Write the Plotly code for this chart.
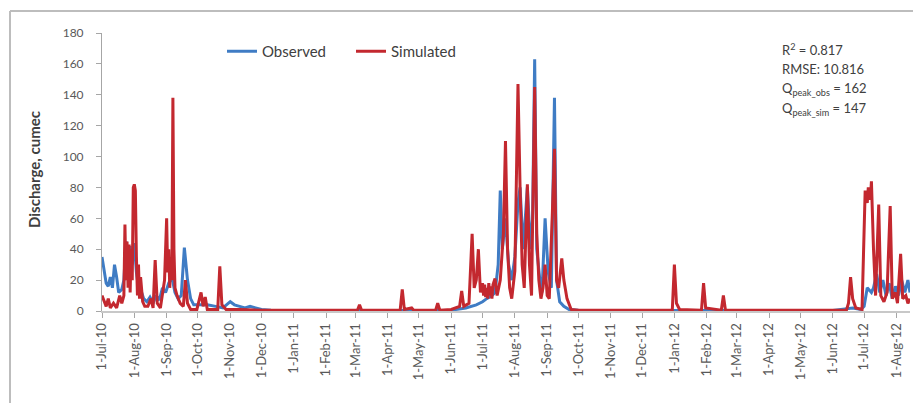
import plotly.graph_objects as go

# ---------------- data ----------------
obs_dates = [
    "2010-07-01", "2010-07-03", "2010-07-05", "2010-07-07", "2010-07-09", "2010-07-11",
    "2010-07-13", "2010-07-15", "2010-07-17", "2010-07-20", "2010-07-22", "2010-07-24",
    "2010-07-26", "2010-07-28", "2010-07-30", "2010-08-01", "2010-08-03", "2010-08-05",
    "2010-08-08", "2010-08-10", "2010-08-13", "2010-08-16", "2010-08-19", "2010-08-22",
    "2010-08-25", "2010-08-28", "2010-08-31", "2010-09-03", "2010-09-06", "2010-09-09",
    "2010-09-12", "2010-09-15", "2010-09-18", "2010-09-21", "2010-09-24", "2010-09-27",
    "2010-10-05", "2010-10-10", "2010-10-18", "2010-10-25", "2010-11-01", "2010-11-05",
    "2010-11-10", "2010-11-15", "2010-11-20", "2010-11-25", "2010-12-01", "2010-12-10",
    "2011-01-01", "2011-06-01", "2011-06-15", "2011-06-25", "2011-07-01", "2011-07-05",
    "2011-07-10", "2011-07-13", "2011-07-16", "2011-07-18", "2011-07-20", "2011-07-23",
    "2011-07-26", "2011-07-29", "2011-08-01", "2011-08-04", "2011-08-06", "2011-08-09",
    "2011-08-13", "2011-08-16", "2011-08-18", "2011-08-20", "2011-08-22", "2011-08-25",
    "2011-08-27", "2011-08-30", "2011-09-02", "2011-09-05", "2011-09-08", "2011-09-10",
    "2011-09-13", "2011-09-17", "2011-09-22", "2011-10-01", "2012-06-01", "2012-06-20",
    "2012-06-28", "2012-07-01", "2012-07-04", "2012-07-08", "2012-07-10", "2012-07-13",
    "2012-07-16", "2012-07-19", "2012-07-22", "2012-07-25", "2012-07-28", "2012-07-31",
    "2012-08-03", "2012-08-06", "2012-08-09", "2012-08-12", "2012-08-14",
]
obs_values = [
    35, 25, 18, 16, 22, 15,
    30, 22, 12, 14, 20, 45,
    38, 42, 30, 44, 25, 15,
    12, 8, 6, 9, 5, 10,
    7, 15, 12, 18, 22, 12,
    8, 10, 41, 20, 8, 4,
    4, 4, 3, 2, 6, 4,
    3, 2, 3, 2, 1, 0.5,
    0.3, 0.5, 2, 4, 6, 8,
    10, 12, 30, 78, 40, 60,
    30, 20, 35, 70, 80, 40,
    80, 40, 60, 163, 40, 20,
    12, 60, 25, 15, 138, 20,
    6, 3, 1, 0.5, 0.3, 2,
    1, 3, 15, 12, 15, 24,
    12, 20, 10, 18, 8, 16,
    10, 20, 12, 20, 12,
]

sim_dates = [
    "2010-07-01", "2010-07-03", "2010-07-05", "2010-07-07", "2010-07-09", "2010-07-12",
    "2010-07-15", "2010-07-18", "2010-07-20", "2010-07-22", "2010-07-23", "2010-07-24",
    "2010-07-25", "2010-07-26", "2010-07-27", "2010-07-28", "2010-07-29", "2010-07-30",
    "2010-07-31", "2010-08-01", "2010-08-02", "2010-08-03", "2010-08-04", "2010-08-05",
    "2010-08-06", "2010-08-07", "2010-08-09", "2010-08-11", "2010-08-14", "2010-08-17",
    "2010-08-19", "2010-08-21", "2010-08-23", "2010-08-26", "2010-08-28", "2010-08-30",
    "2010-09-01", "2010-09-02", "2010-09-03", "2010-09-04", "2010-09-05", "2010-09-06",
    "2010-09-07", "2010-09-08", "2010-09-09", "2010-09-11", "2010-09-14", "2010-09-17",
    "2010-09-19", "2010-09-21", "2010-09-24", "2010-09-30", "2010-10-04", "2010-10-06",
    "2010-10-08", "2010-10-10", "2010-10-20", "2010-10-22", "2010-10-24", "2010-10-28",
    "2010-11-10", "2010-12-01", "2011-03-03", "2011-03-05", "2011-03-07", "2011-04-13",
    "2011-04-15", "2011-04-17", "2011-04-24", "2011-04-26", "2011-05-17", "2011-05-19",
    "2011-05-21", "2011-06-01", "2011-06-09", "2011-06-11", "2011-06-13", "2011-06-18",
    "2011-06-21", "2011-06-23", "2011-06-25", "2011-06-27", "2011-06-29", "2011-07-01",
    "2011-07-02", "2011-07-03", "2011-07-04", "2011-07-05", "2011-07-06", "2011-07-07",
    "2011-07-08", "2011-07-09", "2011-07-10", "2011-07-11", "2011-07-13", "2011-07-15",
    "2011-07-18", "2011-07-21", "2011-07-23", "2011-07-25", "2011-07-27", "2011-07-29",
    "2011-08-01", "2011-08-04", "2011-08-06", "2011-08-08", "2011-08-10", "2011-08-13",
    "2011-08-15", "2011-08-17", "2011-08-20", "2011-08-22", "2011-08-24", "2011-08-26",
    "2011-08-28", "2011-08-30", "2011-09-01", "2011-09-03", "2011-09-06", "2011-09-08",
    "2011-09-10", "2011-09-12", "2011-09-15", "2011-09-17", "2011-09-20", "2011-09-24",
    "2011-10-01", "2011-12-30", "2012-01-01", "2012-01-03", "2012-01-06", "2012-01-27",
    "2012-01-29", "2012-01-31", "2012-02-15", "2012-02-17", "2012-02-19", "2012-06-14",
    "2012-06-16", "2012-06-18", "2012-06-20", "2012-06-23", "2012-06-29", "2012-07-02",
    "2012-07-04", "2012-07-05", "2012-07-07", "2012-07-08", "2012-07-10", "2012-07-12",
    "2012-07-15", "2012-07-17", "2012-07-20", "2012-07-23", "2012-07-26", "2012-07-28",
    "2012-07-31", "2012-08-02", "2012-08-05", "2012-08-07", "2012-08-10", "2012-08-12",
    "2012-08-14",
]
sim_values = [
    10, 6, 3, 8, 2, 5,
    2, 10, 5, 10, 56, 20,
    45, 15, 43, 12, 40, 20,
    80, 82, 78, 35, 10, 30,
    8, 22, 6, 3, 3, 8,
    2, 33, 5, 2, 10, 20,
    60, 25, 40, 15, 35, 20,
    138, 40, 15, 10, 5, 3,
    20, 5, 1, 1, 12, 3,
    9, 1, 1, 29, 4, 1,
    1, 0.5, 0.5, 4, 0.5, 0.5,
    14, 1, 2, 0.5, 0.5, 5,
    0.5, 1, 3, 13, 3, 5,
    50, 15, 20, 40, 12, 18,
    10, 17, 9, 15, 8, 18,
    10, 16, 8, 17, 21, 10,
    20, 50, 110, 40, 15, 8,
    26, 147, 80, 30, 15, 82,
    30, 10, 145, 50, 20, 8,
    15, 30, 10, 8, 64, 105,
    20, 15, 34, 20, 8, 1,
    0.5, 0.5, 30, 5, 1, 0.5,
    18, 2, 0.5, 10, 0.5, 0.5,
    5, 22, 8, 2, 1, 78,
    70, 80, 72, 84, 40, 10,
    69, 10, 6, 12, 68, 8,
    12, 5, 37, 8, 10, 5,
    8,
]

tick_vals = [
    "2010-07-01", "2010-08-01", "2010-09-01", "2010-10-01", "2010-11-01", "2010-12-01",
    "2011-01-01", "2011-02-01", "2011-03-01", "2011-04-01", "2011-05-01", "2011-06-01",
    "2011-07-01", "2011-08-01", "2011-09-01", "2011-10-01", "2011-11-01", "2011-12-01",
    "2012-01-01", "2012-02-01", "2012-03-01", "2012-04-01", "2012-05-01", "2012-06-01",
    "2012-07-01", "2012-08-01",
]
tick_text = [
    "1-Jul-10", "1-Aug-10", "1-Sep-10", "1-Oct-10", "1-Nov-10", "1-Dec-10",
    "1-Jan-11", "1-Feb-11", "1-Mar-11", "1-Apr-11", "1-May-11", "1-Jun-11",
    "1-Jul-11", "1-Aug-11", "1-Sep-11", "1-Oct-11", "1-Nov-11", "1-Dec-11",
    "1-Jan-12", "1-Feb-12", "1-Mar-12", "1-Apr-12", "1-May-12", "1-Jun-12",
    "1-Jul-12", "1-Aug-12",
]

stats_lines = [
    "R<sup>2</sup> = 0.817",
    "RMSE: 10.816",
    "Q<sub>peak_obs</sub> = 162",
    "Q<sub>peak_sim</sub> = 147",
]

BLUE = "#3f7cc4"
RED = "#c3282f"
GRAY_TXT = "#595959"
FONT = "Lato"

fig = go.Figure()
fig.add_trace(go.Scatter(x=obs_dates, y=obs_values, mode="lines", name="Observed",
                         line=dict(color=BLUE, width=3)))
fig.add_trace(go.Scatter(x=sim_dates, y=sim_values, mode="lines", name="Simulated",
                         line=dict(color=RED, width=3)))

# the page body has an 8px default margin, so the figure is drawn 8px right/down
OFF = 8
W, H = 921, 403
# target plot area on screen: x 102..910, y 33..311
SX0, SX1, SY0, SY1 = 102, 910, 33, 311
L, T = SX0 - OFF, SY0 - OFF
R = W - (SX1 - OFF)
B = H - (SY1 - OFF)
pw, ph = SX1 - SX0, SY1 - SY0

def px_x(p):
    return (p - SX0) / pw

def px_y(p):
    return (SY1 - p) / ph

fig.update_layout(
    width=W, height=H,
    margin=dict(l=L, r=R, t=T, b=B),
    paper_bgcolor="white", plot_bgcolor="white",
    font=dict(family=FONT, size=11, color=GRAY_TXT),
    showlegend=True,
    legend=dict(orientation="h", x=px_x(222), y=px_y(35), xanchor="left", yanchor="top",
                font=dict(family=FONT, size=15, color="#404040"),
                bgcolor="rgba(0,0,0,0)", entrywidth=84, entrywidthmode="pixels",
                tracegroupgap=0),
    xaxis=dict(
        type="date", range=["2010-07-01", "2012-08-14"],
        tickvals=tick_vals, ticktext=tick_text, tickangle=-90,
        ticks="outside", ticklen=5, tickcolor="#a6a6a6",
        showgrid=False, zeroline=False,
        showline=True, linecolor="#c8c8c8", linewidth=2,
        tickfont=dict(family=FONT, size=13, color=GRAY_TXT),
    ),
    yaxis=dict(
        range=[0, 180], tickvals=list(range(0, 181, 20)),
        ticks="outside", ticklen=5, tickcolor="#a6a6a6",
        showgrid=False, zeroline=False,
        showline=True, linecolor="#a6a6a6", linewidth=1,
        ticklabelstandoff=10,
        tickfont=dict(family=FONT, size=12, color=GRAY_TXT),
    ),
    shapes=[
        dict(type="line", xref="paper", yref="paper",
             x0=px_x(10), x1=px_x(960), y0=px_y(11), y1=px_y(11),
             line=dict(color="#bdbdbd", width=2), layer="above"),
        dict(type="line", xref="paper", yref="paper",
             x0=px_x(10), x1=px_x(10), y0=px_y(11), y1=px_y(460),
             line=dict(color="#bdbdbd", width=2), layer="above"),
    ],
)

fig.add_annotation(text="<b>Discharge, cumec</b>", textangle=-90,
                   xref="paper", yref="paper", x=px_x(34), y=px_y(170),
                   xanchor="center", yanchor="middle", showarrow=False,
                   font=dict(family=FONT, size=15, color="#404040"))

line_y = [50, 69, 89, 109]
for txt, yy in zip(stats_lines, line_y):
    fig.add_annotation(text=txt, xref="paper", yref="paper",
                       x=px_x(780), y=px_y(yy), xanchor="left", yanchor="middle",
                       showarrow=False,
                       font=dict(family=FONT, size=13, color="#404040"))

fig.write_html("out.html")
